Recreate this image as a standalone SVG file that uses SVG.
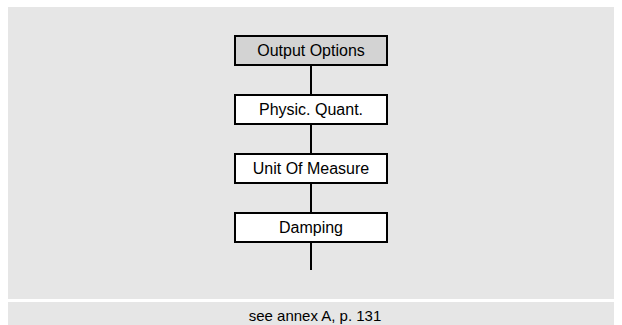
<svg xmlns="http://www.w3.org/2000/svg" width="622" height="325" viewBox="0 0 622 325">
<style>
.panel{fill:#e6e6e6}
.box{fill:#ffffff;stroke:#000000;stroke-width:2}
.head{fill:#d3d3d3}
.lbl{font-family:"Liberation Sans",Arial,sans-serif;font-size:16px;fill:#000;text-anchor:middle}
.foot{font-family:"Liberation Sans",Arial,sans-serif;font-size:15px;fill:#000;text-anchor:middle}
.conn{stroke:#000;stroke-width:2;fill:none}
</style>
<rect width="622" height="325" fill="#ffffff"/>
<rect class="panel" x="8" y="7" width="606" height="292"/>
<rect class="panel" x="8" y="302" width="606" height="23"/>
<g id="connectors">
<line class="conn" x1="311" y1="65" x2="311" y2="95"/>
<line class="conn" x1="311" y1="124" x2="311" y2="154"/>
<line class="conn" x1="311" y1="183" x2="311" y2="213"/>
<line class="conn" x1="311" y1="242" x2="311" y2="270"/>
</g>
<g id="output-options">
<rect class="box head" x="235" y="36" width="152" height="29"/>
<text class="lbl" x="311" y="56">Output Options</text>
</g>
<g id="physic-quant">
<rect class="box" x="235" y="95" width="152" height="29"/>
<text class="lbl" x="311" y="115">Physic. Quant.</text>
</g>
<g id="unit-of-measure">
<rect class="box" x="235" y="154" width="152" height="29"/>
<text class="lbl" x="311" y="174">Unit Of Measure</text>
</g>
<g id="damping">
<rect class="box" x="235" y="213" width="152" height="29"/>
<text class="lbl" x="311" y="233">Damping</text>
</g>
<text class="foot" x="315" y="320.5">see annex A, p. 131</text>
</svg>
